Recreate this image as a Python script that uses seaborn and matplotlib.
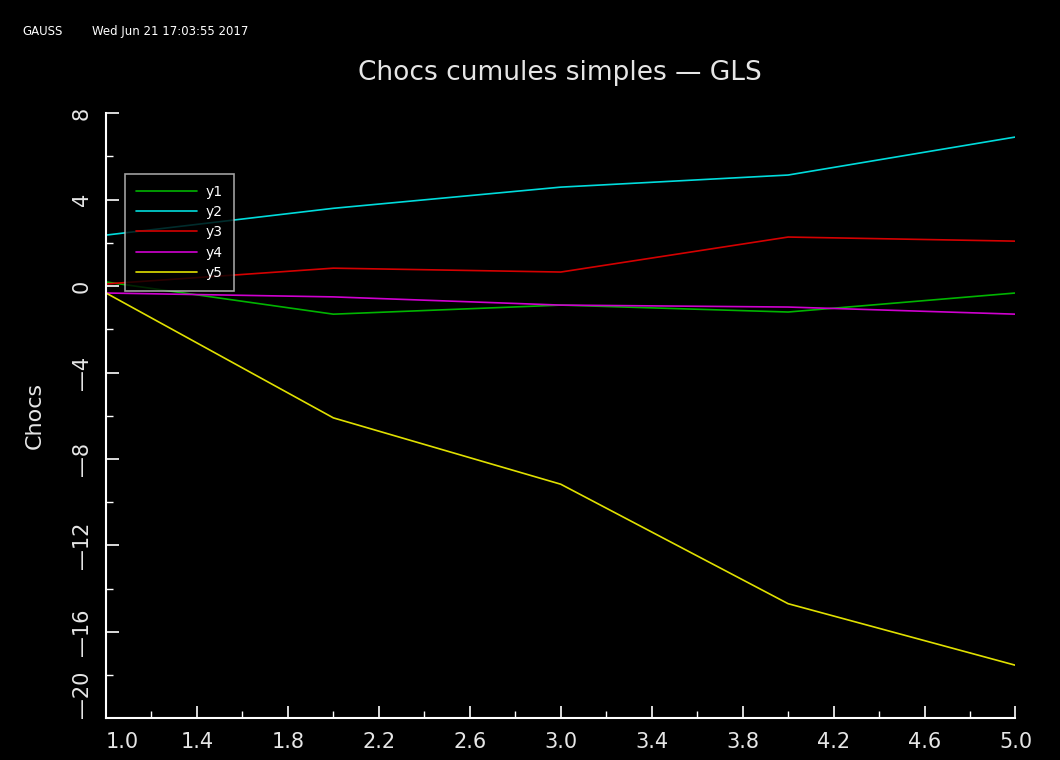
import numpy as np
import pandas as pd
import matplotlib
matplotlib.use("Agg")
import matplotlib.pyplot as plt
from matplotlib.ticker import MultipleLocator
import seaborn as sns

periods = [1, 2, 3, 4, 5]
y1 = [0.19, -1.30, -0.88, -1.20, -0.32]
y2 = [2.36, 3.60, 4.58, 5.14, 6.90]
y3 = [0.10, 0.83, 0.65, 2.27, 2.08]
y4 = [-0.32, -0.50, -0.88, -0.97, -1.30]
y5 = [-0.32, -6.10, -9.17, -14.70, -17.55]
series_names = ["y1", "y2", "y3", "y4", "y5"]
colors = ["#00b400", "#00dcdc", "#d40000", "#d000d0", "#e0e000"]
xticks = [1.0, 1.4, 1.8, 2.2, 2.6, 3.0, 3.4, 3.8, 4.2, 4.6, 5.0]
yticks = [-20, -16, -12, -8, -4, 0, 4, 8]

df = pd.DataFrame({
    "x": periods * 5,
    "val": y1 + y2 + y3 + y4 + y5,
    "serie": [n for n in series_names for _ in periods],
})

sns.set_theme(style="dark")
plt.rcParams["font.family"] = ["DejaVu Sans"]

fig = plt.figure(figsize=(10.6, 7.6), dpi=100, facecolor="black")
ax = fig.add_axes([0.1, 0.055, 0.858, 0.796])
ax.set_facecolor("black")

sns.lineplot(data=df, x="x", y="val", hue="serie", palette=colors,
             linewidth=1.2, ax=ax, legend=True)

ax.set_xlim(1.0, 5.0)
ax.set_ylim(-20, 8)
ax.set_xticks(xticks)
ax.set_xticklabels([f"{v:.1f}" for v in xticks])
ax.xaxis.set_minor_locator(MultipleLocator(0.2))
ax.set_yticks(yticks)
ax.set_yticklabels([str(v).replace("-", "\u2014") for v in yticks],
                   rotation=90, va="center")
ax.yaxis.set_minor_locator(MultipleLocator(2))
# first x label sits a bit right of the corner, as in the original
ax.get_xticklabels()[0].set_horizontalalignment("left")
ax.get_yticklabels()[0].set_verticalalignment("bottom")

for side in ["top", "right"]:
    ax.spines[side].set_visible(False)
for side in ["left", "bottom"]:
    ax.spines[side].set_color("white")
    ax.spines[side].set_linewidth(1.5)

ax.tick_params(which="major", direction="in", length=9, width=1.2, colors="white",
               labelsize=15, pad=10, bottom=True, left=True)
ax.tick_params(which="minor", direction="in", length=5, width=1.0, colors="white",
               bottom=True, left=True)
ax.tick_params(labelcolor="#e6e6e6")
ax.grid(False)

ax.set_xlabel("")
ax.set_ylabel("Chocs", color="#e6e6e6", fontsize=16, labelpad=20)

fig.text(0.528, 0.904, "Chocs cumules simples \u2014 GLS", color="#e6e6e6",
         fontsize=19, ha="center", va="center")
fig.text(0.021, 0.958, "GAUSS", color="white", fontsize=8.5, ha="left", va="center")
fig.text(0.087, 0.958, "Wed Jun 21 17:03:55 2017", color="white", fontsize=8.5,
         ha="left", va="center")

leg = ax.legend(loc="upper left", bbox_to_anchor=(0.021, 0.9), frameon=True,
                fontsize=10, handlelength=4.4, handletextpad=0.6, labelspacing=0.45,
                borderpad=0.8, borderaxespad=0, fancybox=False)
leg.get_frame().set_facecolor("black")
leg.get_frame().set_edgecolor("#c8c8c8")
leg.get_frame().set_linewidth(1.2)
for t in leg.get_texts():
    t.set_color("white")

fig.savefig("out.png", dpi=100, facecolor="black")
